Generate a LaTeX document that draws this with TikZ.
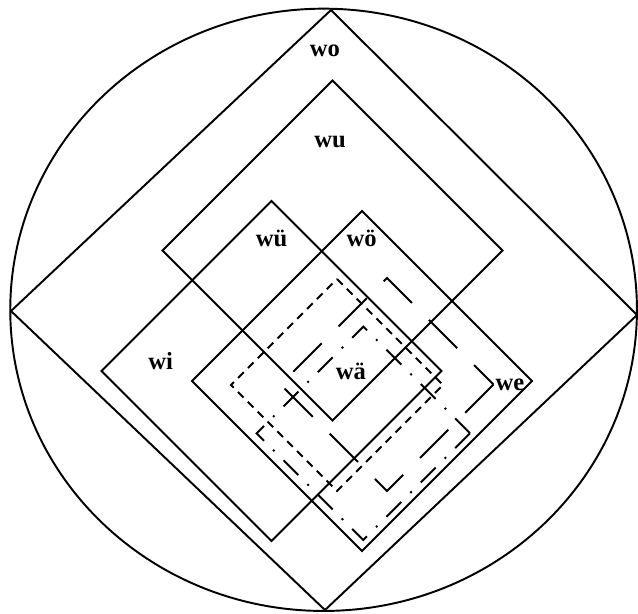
\documentclass[tikz,border=0pt]{standalone}
\usepackage{fontspec}
\setmainfont{Liberation Serif}

\begin{document}
\begin{tikzpicture}[x=0.02cm, y=-0.02cm,
  line/.style={line width=1.1pt, line join=miter},
  region/.style={font=\fontsize{14}{16}\selectfont\bfseries, anchor=base, inner sep=0pt},
  shortdash/.style={line, dash pattern=on 4.55pt off 3.38pt},
  longdash/.style={line, dash pattern=on 22.76pt off 13.6pt},
  dashdot/.style={line, dash pattern=on 11.95pt off 7.27pt on 1.14pt off 7.27pt},
]
  \useasboundingbox (0,0) rectangle (638,613);

  % Outer circle
  \draw[line] (323.6,309.8) ellipse [x radius=6.268cm, y radius=6.024cm];

  % wo
  \draw[line] (331,10) -- (637,315) -- (325,610) -- (11,311) -- cycle;

  % wu
  \draw[line] (332.5,80.5) -- (502.5,250.5) -- (332.5,420.5) -- (162.5,250.5) -- cycle;

  % wü and wö
  \draw[line] (271.5,201) -- (441.5,371) -- (271.5,541) -- (101.5,371) -- cycle;
  \draw[line] (362,211) -- (532,381) -- (362,551) -- (192,381) -- cycle;

  % Inner dashed squares
  \draw[shortdash] (337,279) -- (443,385) -- (337,491) -- (231,385) -- cycle;
  \draw[longdash] (493.5,384.5) -- (387,491) -- (280.5,384.5) -- (387,278) -- cycle;
  \draw[dashdot] (470,433.3) -- (363.3,540) -- (256.6,433.3) -- (363.3,326.6) -- cycle;

  % Labels
  \node[region] (wo) at (325,56.5) {wo};
  \node[region] (wu) at (330,147.5) {wu};
  \node[region] (wue) at (271.5,246) {wü};
  \node[region] (woe) at (361.7,246) {wö};
  \node[region] (wi) at (160.6,369) {wi};
  \node[region] (wae) at (350.8,379.3) {wä};
  \node[region] (we) at (510,390) {we};

\end{tikzpicture}
\end{document}
